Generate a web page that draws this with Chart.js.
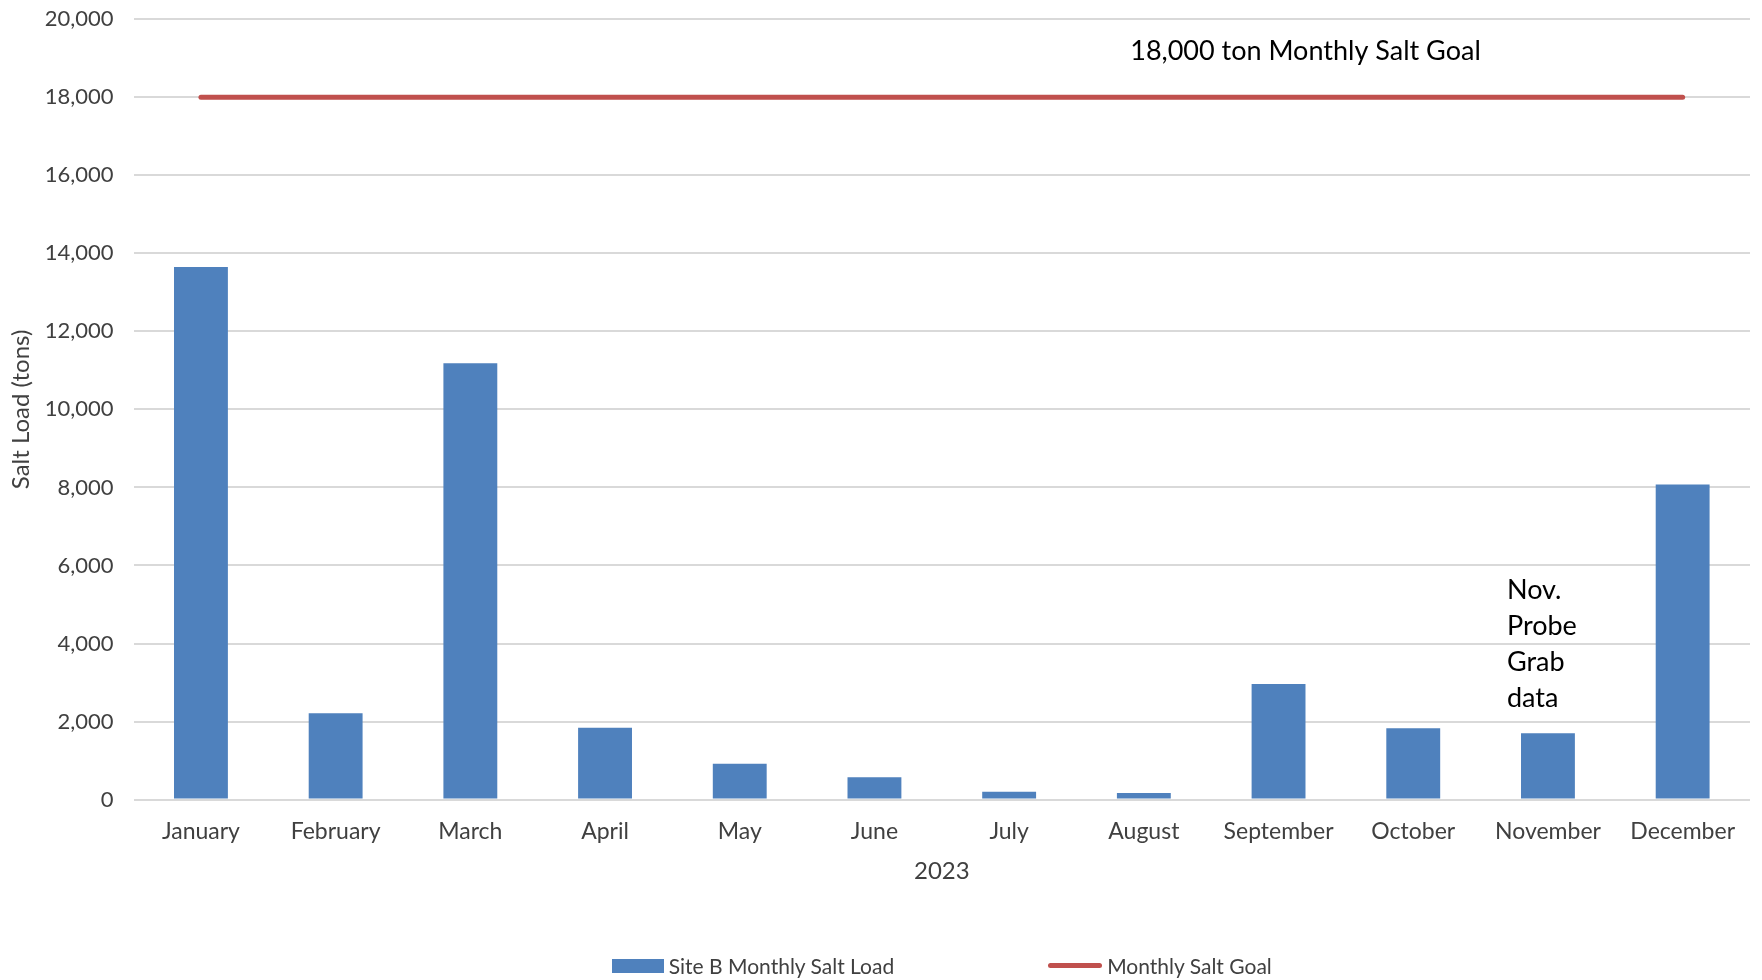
<!DOCTYPE html>
<html>
<head>
<meta charset="utf-8">
<title>Site B Monthly Salt Load 2023</title>
<script src="https://cdn.jsdelivr.net/npm/chart.js@4.4.1/dist/chart.umd.min.js"></script>
<style>
    html, body { margin: 0; padding: 0; background: #fff; }
    .wrap { position: relative; width: 1762px; height: 980px; }
    #salt-chart { display: block; }
    .legend {
        position: absolute; top: 953px;
        display: flex; justify-content: center; gap: 154px;
        font-family: Lato, "Open Sans", sans-serif; font-size: 21px; color: #404040;
    }
    .legend-item { display: flex; align-items: center; gap: 5px; }
    .legend-swatch { display: inline-block; width: 52px; }
</style>
</head>
<body>
<div class="wrap">
    <canvas id="salt-chart" width="1762" height="980"></canvas>
    <div class="legend" id="legend"></div>
</div>
<script>
// данные графика
const months = ['January', 'February', 'March', 'April', 'May', 'June', 'July', 'August', 'September', 'October', 'November', 'December'];
const siteBLoad = [13650, 2210, 11180, 1840, 920, 575, 200, 170, 2960, 1830, 1700, 8075];
const monthlyGoal = [18000, 18000, 18000, 18000, 18000, 18000, 18000, 18000, 18000, 18000, 18000, 18000];
const yTicks = { min: 0, max: 20000, step: 2000 };

const goalNote = '18,000 ton Monthly Salt Goal';
const novNote = ['Nov.', 'Probe', 'Grab', 'data'];

const FONT = 'Lato, "Open Sans", sans-serif';
const BLUE = '#4F81BD';
const RED = '#C0504D';
const TEXT = '#404040';

// подписи поверх графика
const notesPlugin = {
    id: 'notes',
    afterDatasetsDraw: (chart) => {
        const { ctx, scales: { x, y } } = chart;
        ctx.save();
        ctx.fillStyle = '#000';
        ctx.font = `27px ${FONT}`;
        ctx.textAlign = 'center';
        ctx.textBaseline = 'middle';
        ctx.fillText(goalNote, x.getPixelForValue(8.2), y.getPixelForValue(19170));

        ctx.textAlign = 'left';
        const novX = x.getPixelForValue(10) - 41;
        novNote.forEach((line, i) => {
            ctx.fillText(line, novX, y.getPixelForValue(5370) + i * 36);
        });
        ctx.restore();
    },
};

const chart = new Chart(document.getElementById('salt-chart'), {
    data: {
        labels: months,
        datasets: [
            {
                type: 'line',
                label: 'Monthly Salt Goal',
                data: monthlyGoal,
                borderColor: RED,
                backgroundColor: RED,
                borderWidth: 5,
                borderCapStyle: 'round',
                pointRadius: 0,
                order: 0,
            },
            {
                type: 'bar',
                label: 'Site B Monthly Salt Load',
                data: siteBLoad,
                backgroundColor: BLUE,
                barPercentage: 0.4,
                categoryPercentage: 1,
                order: 1,
            },
        ],
    },
    options: {
        responsive: false,
        animation: false,
        devicePixelRatio: 1,
        layout: { padding: { left: 7, right: 12, top: 0, bottom: 94 } },
        plugins: {
            legend: { display: false },
            tooltip: { enabled: false },
        },
        scales: {
            x: {
                grid: { display: false },
                border: { display: false },
                ticks: { color: TEXT, font: { family: FONT, size: 23 }, padding: 10, maxRotation: 0 },
                title: { display: true, text: '2023', color: TEXT, font: { family: FONT, size: 24 }, padding: { top: 2, bottom: 0 } },
            },
            y: {
                min: yTicks.min,
                max: yTicks.max,
                grid: { color: '#D9D9D9', lineWidth: 2, drawTicks: true, tickLength: 14, tickColor: 'rgba(0,0,0,0)' },
                border: { display: false },
                ticks: {
                    stepSize: yTicks.step,
                    color: TEXT,
                    font: { family: FONT, size: 22 },
                    padding: 6,
                    callback: (v) => v.toLocaleString('en-US'),
                },
                title: { display: true, text: 'Salt Load (tons)', color: TEXT, font: { family: FONT, size: 24 }, padding: { top: 0, bottom: 3 } },
            },
        },
    },
    plugins: [notesPlugin],
});

// легенда из наборов данных, по центру области графика
const legendEl = document.getElementById('legend');
legendEl.style.left = `${chart.chartArea.left}px`;
legendEl.style.width = `${chart.chartArea.right - chart.chartArea.left}px`;
[...chart.data.datasets].reverse().forEach((ds) => {
    const item = document.createElement('span');
    item.className = 'legend-item';
    const sw = document.createElement('span');
    sw.className = 'legend-swatch';
    const isLine = ds.type === 'line';
    sw.style.background = isLine ? ds.borderColor : ds.backgroundColor;
    sw.style.height = isLine ? '5px' : '14px';
    if (isLine) {
        sw.style.width = '54px';
        sw.style.borderRadius = '3px';
    }
    const label = document.createElement('span');
    label.textContent = ds.label;
    item.appendChild(sw);
    item.appendChild(label);
    legendEl.appendChild(item);
});
</script>
</body>
</html>
